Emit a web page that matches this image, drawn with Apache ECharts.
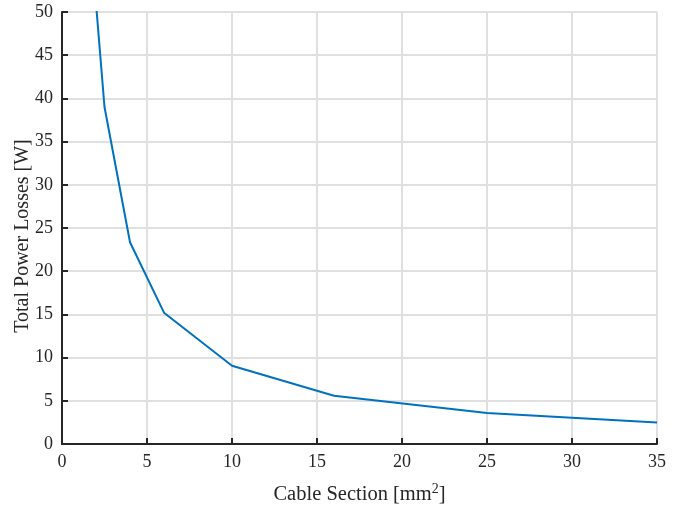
<!DOCTYPE html>
<html>
<head>
<meta charset="utf-8">
<script src="https://cdn.jsdelivr.net/npm/echarts@6/dist/echarts.min.js"></script>
<style>html,body{margin:0;padding:0;background:#fff}#c{width:679px;height:506px}</style>
</head>
<body>
<div id="c"></div>
<script>
const sections = [1.5, 2.5, 4, 6, 10, 16, 25, 35];
const losses = [63, 39, 23.35, 15.2, 9.05, 5.59, 3.6, 2.5];
const xTicks = [0, 5, 10, 15, 20, 25, 30, 35];
const yTicks = [0, 5, 10, 15, 20, 25, 30, 35, 40, 45, 50];

const font = 'Liberation Serif, Times New Roman, serif';
const chart = echarts.init(document.getElementById('c'));
chart.setOption({
  backgroundColor: '#fff',
  animation: false,
  grid: {left: 62, right: 22, top: 12, bottom: 62, outerBoundsMode: 'none', containLabel: false},
  xAxis: {
    type: 'value', min: xTicks[0], max: xTicks[xTicks.length - 1], interval: 5,
    name: 'Cable Section [mm{sup|2}]',
    nameLocation: 'middle', nameGap: 38,
    nameTextStyle: {fontFamily: font, fontSize: 20.5, color: '#262626',
      rich: {sup: {fontFamily: font, fontSize: 14, color: '#262626', verticalAlign: 'top', padding: [0, 0, 12, 0]}}},
    axisLine: {show: true, lineStyle: {color: '#262626', width: 2}},
    axisTick: {show: true, inside: true, length: 6, lineStyle: {color: '#262626', width: 2}},
    axisLabel: {fontFamily: font, fontSize: 18, color: '#262626', margin: 9},
    splitLine: {show: true, lineStyle: {color: '#e0e0e0', width: 2}}
  },
  yAxis: {
    type: 'value', min: yTicks[0], max: yTicks[yTicks.length - 1], interval: 5,
    name: 'Total Power Losses [W]',
    nameLocation: 'middle', nameGap: 29, nameMoveOverlap: false,
    nameTextStyle: {fontFamily: font, fontSize: 20, color: '#262626', padding: [0, 16, 0, 0]},
    axisLine: {show: true, lineStyle: {color: '#262626', width: 2}},
    axisTick: {show: true, inside: true, length: 6, lineStyle: {color: '#262626', width: 2}},
    axisLabel: {fontFamily: font, fontSize: 18, color: '#262626', margin: 9},
    splitLine: {show: true, lineStyle: {color: '#e0e0e0', width: 2}}
  },
  series: [{
    type: 'line',
    data: sections.map((s, i) => [s, losses[i]]),
    showSymbol: false, symbol: 'none', clip: true,
    lineStyle: {color: '#0072BD', width: 2}
  }]
});
</script>
</body>
</html>
